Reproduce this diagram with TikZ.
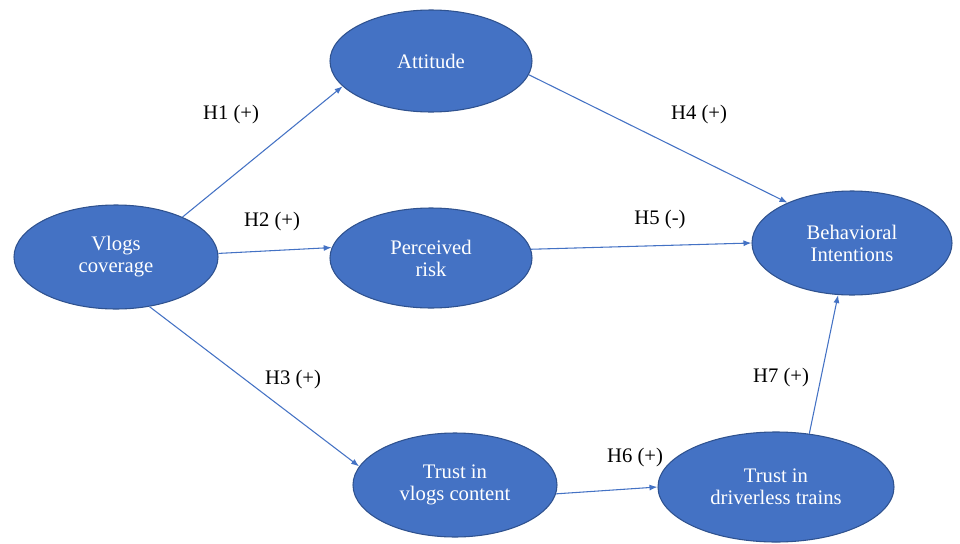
\documentclass[tikz,border=0pt]{standalone}
\usepackage{fontspec}
\setmainfont{Liberation Serif}
\newfontfamily\timesfont{Liberation Serif}
\usetikzlibrary{shapes.geometric,arrows.meta}
\definecolor{nodeblue}{HTML}{4472C4}
\definecolor{edgeblue}{HTML}{2F528F}
\tikzset{
  construct/.style={ellipse, draw=edgeblue, line width=0.8pt, fill=nodeblue,
    text=white, inner sep=0pt, align=center,
    font=\timesfont\fontsize{15.5}{16.5}\selectfont},
  path/.style={draw=nodeblue, line width=0.8pt,
    -{Latex[length=6pt,width=4.5pt]}},
  hyp/.style={font=\timesfont\fontsize{15.5}{17}\selectfont, text=black}
}
\begin{document}
\begin{tikzpicture}[x=0.75pt,y=-0.75pt]
\useasboundingbox (0,0) rectangle (960,543);
\node[construct, minimum width=153pt, minimum height=78pt] (V) at (116,257) {Vlogs\\coverage};
\node[construct, minimum width=151.5pt, minimum height=76.5pt] (A) at (431,61) {Attitude};
\node[construct, minimum width=151.5pt, minimum height=75pt] (P) at (431,258) {Perceived\\risk};
\node[construct, minimum width=150pt, minimum height=78pt] (B) at (852,243) {Behavioral\\Intentions};
\node[construct, minimum width=153pt, minimum height=78pt] (T1) at (455,485) {Trust in\\vlogs content};
\node[construct, minimum width=177pt, minimum height=82.5pt] (T2) at (776,487) {Trust in\\driverless trains};

\draw[path] (V.31) -- (A.196);
\draw[path] (V.2) -- (P.174);
\draw[path] (V.-56) -- (T1.169);
\draw[path] (A.-8) -- (B.148);
\draw[path] (P.5) -- (B.180);
\draw[path] (T1.-5) -- (T2.180);
\draw[path] (T2.58) -- (B.255);

\node[hyp] (h1) at (231,115) {H1 (+)};
\node[hyp] (h2) at (272,222) {H2 (+)};
\node[hyp] (h3) at (293,380) {H3 (+)};
\node[hyp] (h4) at (699,115) {H4 (+)};
\node[hyp] (h5) at (660,220) {H5 (-)};
\node[hyp] (h6) at (635,458) {H6 (+)};
\node[hyp] (h7) at (781,378) {H7 (+)};
\end{tikzpicture}
\end{document}
